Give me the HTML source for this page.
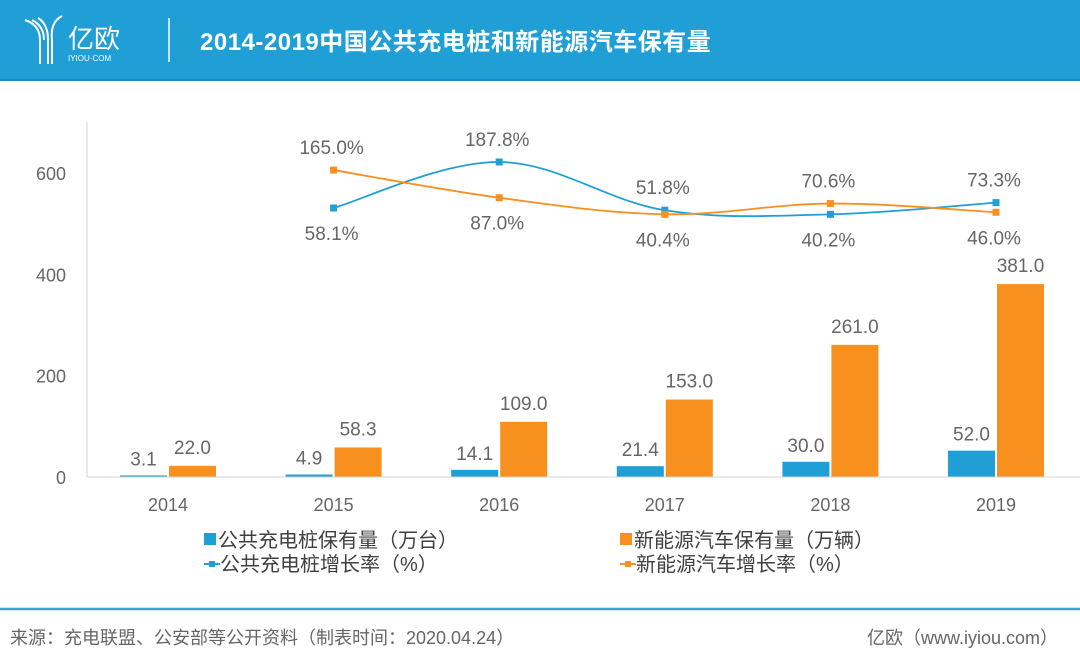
<!DOCTYPE html>
<html><head><meta charset="utf-8"><style>
body{margin:0;width:1080px;height:664px;background:#fff;overflow:hidden;font-family:"Liberation Sans","Noto Sans CJK SC",sans-serif;}
#hdr{position:absolute;left:0;top:0;width:1080px;height:79px;background:#1f9fd6;border-bottom:2px solid #1a8cc0;}
</style></head><body>
<div id="hdr">
 <svg width="1080" height="79">
  <g stroke="#fff" fill="none" stroke-width="2">
   <path d="M25 20 Q40 25 40 40 L40 64 M32 20 Q44 26 44 40 M38 18 Q48 24 48 40 L48 64 M62 16 Q50 22 52 40 L52 64"/>
  </g>
  <text x="68" y="48" fill="#fff" font-size="26" font-family="Noto Sans CJK SC,sans-serif">亿欧</text>
  <text x="68" y="61" fill="#fff" font-size="8">IYIOU·COM</text>
  <line x1="169" y1="18" x2="169" y2="62" stroke="#fff" stroke-width="1.5"/>
  <text x="200" y="50" fill="#fff" font-size="24" font-weight="bold" letter-spacing="0.5" font-family="Liberation Sans,Noto Sans CJK SC,sans-serif">2014-2019中国公共充电桩和新能源汽车保有量</text>
 </svg>
</div>
<svg id="chart" width="1080" height="664" style="position:absolute;left:0;top:0"></svg>
<script>
const categories=["2014","2015","2016","2017","2018","2019"];
const pileStock=[3.1,4.9,14.1,21.4,30.0,52.0];
const evStock=[22.0,58.3,109.0,153.0,261.0,381.0];
const pileGrowth=[null,58.1,187.8,51.8,40.2,73.3];
const evGrowth=[null,165.0,87.0,40.4,70.6,46.0];
const yTicks=[0,200,400,600];
const BLUE="#1f9fd6",ORANGE="#f7901e";
const svg=document.getElementById('chart');
const NS="http://www.w3.org/2000/svg";
function mk(t,a,txt){const e=document.createElementNS(NS,t);for(const k in a)e.setAttribute(k,a[k]);if(txt!=null)e.textContent=txt;svg.appendChild(e);return e;}
const y=v=>477-v*(303.8/600);
const x=i=>168+i*165.6;
const y2=v=>228.6-v*0.3547;
const bw=47;
let e=mk('line',{x1:87,y1:122,x2:87,y2:477,stroke:'#d0d0d0','stroke-width':1});

yTicks.forEach(t=>{const el=mk('text',{x:66,y:y(t)+7,'text-anchor':'end','font-size':18,fill:'#666'},t);
});
categories.forEach((c,i)=>{
 const el=mk('text',{x:x(i),y:511,'text-anchor':'middle','font-size':18,fill:'#666'},c);
 
 const b1=mk('rect',{x:x(i)-bw-1,y:y(pileStock[i]),width:bw,height:477-y(pileStock[i]),fill:BLUE});
 
 const b2=mk('rect',{x:x(i)+1,y:y(evStock[i]),width:bw,height:477-y(evStock[i]),fill:ORANGE});
 
 const l1=mk('text',{x:x(i)-bw/2-1,y:y(pileStock[i])-10,'text-anchor':'middle','font-size':19,fill:'#666'},pileStock[i].toFixed(1));
 
 const l2=mk('text',{x:x(i)+bw/2+1,y:y(evStock[i])-12,'text-anchor':'middle','font-size':19,fill:'#666'},evStock[i].toFixed(1));
 
});
e=mk('line',{x1:87,y1:477,x2:1080,y2:477,stroke:'#d0d0d0','stroke-width':1});

function smooth(pts){let d='M'+pts[0][0]+' '+pts[0][1];for(let i=0;i<pts.length-1;i++){const p0=pts[i-1]||pts[i],p1=pts[i],p2=pts[i+1],p3=pts[i+2]||p2;const t=0.35;
 d+=` C${p1[0]+(p2[0]-p0[0])*t*0.5} ${p1[1]+(p2[1]-p0[1])*t*0.5},${p2[0]-(p3[0]-p1[0])*t*0.5} ${p2[1]-(p3[1]-p1[1])*t*0.5},${p2[0]} ${p2[1]}`;}return d;}
function series(vals,col,name,labelAbove){
 const pts=[];vals.forEach((v,i)=>{if(v!=null)pts.push([x(i),y2(v),v]);});
 const p=mk('path',{d:smooth(pts),fill:'none',stroke:col,'stroke-width':1.8});
 
 pts.forEach((q,k)=>{const m=mk('rect',{x:q[0]-3.5,y:q[1]-3.5,width:7,height:7,fill:col});
  
  const above=labelAbove[k];
  const t=mk('text',{x:q[0]-2,y:above?q[1]-16:q[1]+32,'text-anchor':'middle','font-size':19,fill:'#666'},q[2].toFixed(1)+'%');
  });
}
series(pileGrowth,BLUE,'pile-growth',[false,true,true,false,true]);
series(evGrowth,ORANGE,'ev-growth',[true,false,false,true,false]);
function leg(lx,ly,col,txt,line,name){
 if(line){const l=mk('line',{x1:lx-2,y1:ly-7,x2:lx+14,y2:ly-7,stroke:col,'stroke-width':2});
  const r=mk('rect',{x:lx+3,y:ly-10,width:6,height:6,fill:col});}
 else{const r=mk('rect',{x:lx,y:ly-14,width:12,height:12,fill:col});}
 const t=mk('text',{x:lx+14,y:ly,'font-size':20,fill:'#404040'},txt);
 
}
leg(204,547,BLUE,'公共充电桩保有量（万台）',false,'legend-pile-stock');
leg(620,547,ORANGE,'新能源汽车保有量（万辆）',false,'legend-ev-stock');
leg(206,571,BLUE,'公共充电桩增长率（%）',true,'legend-pile-growth');
leg(622,571,ORANGE,'新能源汽车增长率（%）',true,'legend-ev-growth');
e=mk('line',{x1:0,y1:609,x2:1080,y2:609,stroke:'#3aa3d6','stroke-width':2.5});

e=mk('text',{x:10,y:644,'font-size':18,fill:'#666'},'来源：充电联盟、公安部等公开资料（制表时间：2020.04.24）');

e=mk('text',{x:1058,y:644,'text-anchor':'end','font-size':18,fill:'#666'},'亿欧（www.iyiou.com）');

</script>
</body></html>
